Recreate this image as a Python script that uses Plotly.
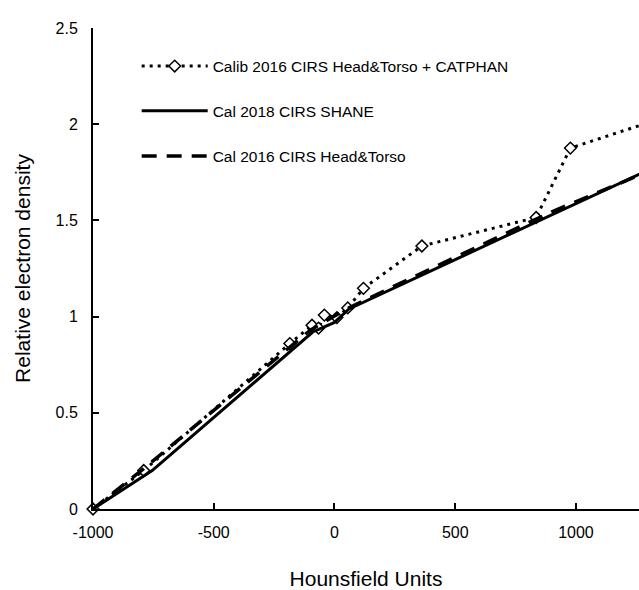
import plotly.graph_objects as go

# Calib 2016 CIRS Head&Torso + CATPHAN (dotted, diamonds)
calib_hu = [-1000, -790, -185, -93, -66, -42, 10, 55, 120, 362, 835, 977, 1500]
calib_red = [0.0, 0.20, 0.86, 0.955, 0.94, 1.008, 0.995, 1.045, 1.147, 1.367, 1.515, 1.876, 2.09]

# Cal 2018 CIRS SHANE (solid)
shane_hu = [-1000, -755, -90, 0, 60, 1300]
shane_red = [0.0, 0.20, 0.92, 0.97, 1.04, 1.762]

# Cal 2016 CIRS Head&Torso (dashed)
cirs_hu = [-1000, -790, -100, 0, 50, 250, 600, 900, 1300]
cirs_red = [0.0, 0.21, 0.93, 1.0, 1.04, 1.16, 1.37, 1.545, 1.755]

x_ticks = [-1000, -500, 0, 500, 1000]
x_tick_text = ["-1000", "-500", "0", "500", "1000"]
y_ticks = [0, 0.5, 1, 1.5, 2, 2.5]
y_tick_text = ["0", "0.5", "1", "1.5", "2", "2.5"]

FONT = "Liberation Sans, Arial, sans-serif"

fig = go.Figure()
fig.add_trace(go.Scatter(
    x=calib_hu, y=calib_red, mode="lines+markers",
    name="Calib 2016 CIRS Head&Torso + CATPHAN",
    line=dict(color="black", width=3, dash="3px,5px"),
    marker=dict(symbol="diamond", size=9, color="white",
                line=dict(color="black", width=1.5)),
    cliponaxis=False, legend="legend", showlegend=True))
fig.add_trace(go.Scatter(
    x=shane_hu, y=shane_red, mode="lines",
    name="Cal 2018 CIRS SHANE",
    line=dict(color="black", width=3), legend="legend2"))
fig.add_trace(go.Scatter(
    x=cirs_hu, y=cirs_red, mode="lines",
    name="Cal 2016 CIRS Head&Torso",
    line=dict(color="black", width=3.5, dash="15px,10px"), legend="legend3"))

leg_common = dict(bgcolor="rgba(0,0,0,0)", font=dict(family=FONT, size=15.5, color="black"),
                  itemwidth=66, xanchor="left", yanchor="middle", x=0.08, visible=True)
fig.update_layout(
    width=639, height=590,
    margin=dict(l=93, r=0, t=28, b=81),
    paper_bgcolor="white", plot_bgcolor="white",
    font=dict(family=FONT, color="black"),
    showlegend=True,
    legend=dict(leg_common, y=0.920),
    legend2=dict(leg_common, y=0.827),
    legend3=dict(leg_common, y=0.733),
    xaxis=dict(range=[-1000, 1261], tickvals=x_ticks, ticktext=x_tick_text, ticks="inside",
               ticklen=6, tickwidth=2, ticklabelstandoff=8,
               tickcolor="black", showline=True, linewidth=2, linecolor="black",
               showgrid=False, zeroline=False, tickfont=dict(size=16), automargin=False,
               title=dict(text="Hounsfield Units", font=dict(size=21), standoff=32)),
    yaxis=dict(range=[0, 2.5], tickvals=y_ticks, ticktext=y_tick_text, ticks="inside",
               ticklen=6, tickwidth=2, ticklabelstandoff=10, tickcolor="black", showline=True,
               linewidth=2, automargin=False,
               linecolor="black", showgrid=False, zeroline=False, tickfont=dict(size=16),
               title=dict(text="Relative electron density", font=dict(size=21), standoff=19)),
)
fig.write_html("out.html")
